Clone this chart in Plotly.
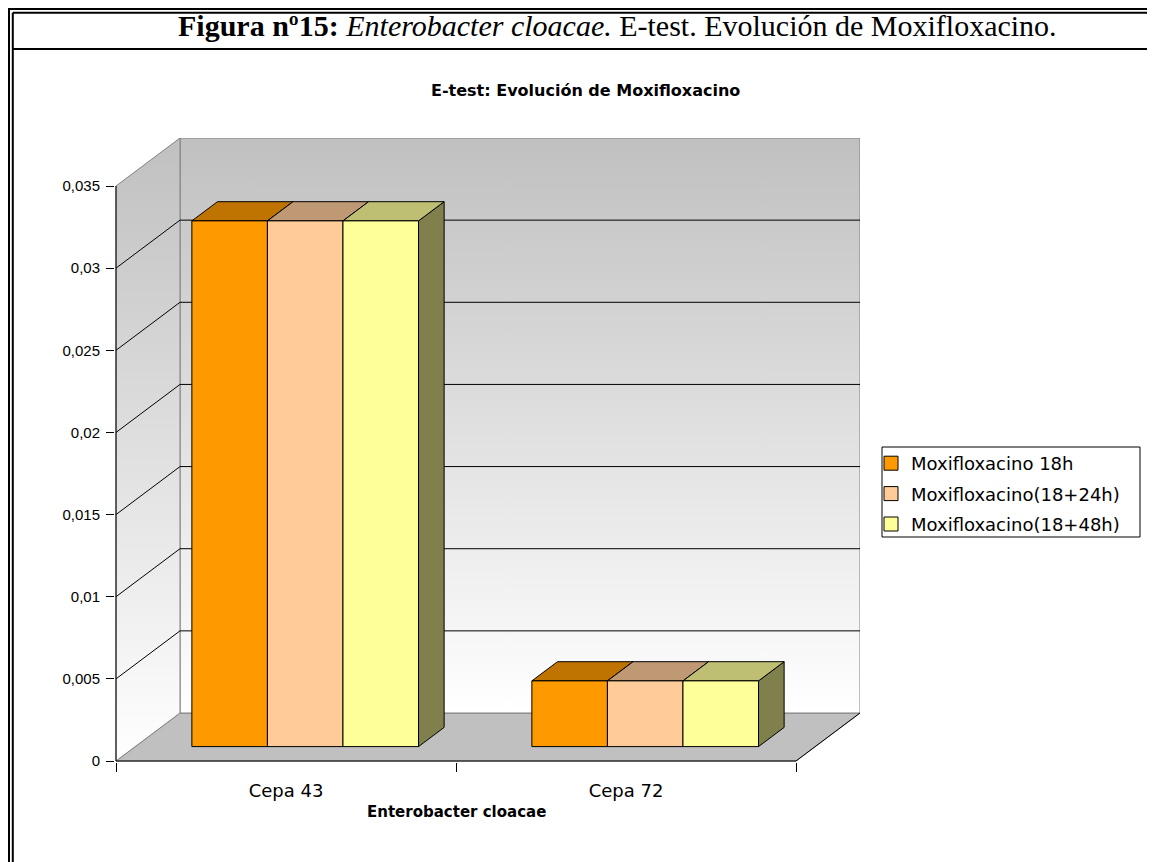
import plotly.graph_objects as go

# ---------------- data ----------------
categories = ["Cepa 43", "Cepa 72"]
series_names = ["Moxifloxacino 18h", "Moxifloxacino(18+24h)", "Moxifloxacino(18+48h)"]
values_18h = [0.032, 0.004]
values_18_24h = [0.032, 0.004]
values_18_48h = [0.032, 0.004]
y_tickvals = [0, 0.005, 0.01, 0.015, 0.02, 0.025, 0.03, 0.035]
y_ticktext = ["0", "0,005", "0,01", "0,015", "0,02", "0,025", "0,03", "0,035"]

front_colors = ["#FF9900", "#FFCC99", "#FFFF99"]
top_colors = ["#BF7300", "#BF9973", "#BFBF73"]
side_colors = ["#804D00", "#806650", "#80804D"]

all_series = [values_18h, values_18_24h, values_18_48h]

# ---------------- page / plot geometry (window pixels) ----------------
WIN_W, WIN_H = 1155, 862
OFF = 8                                      # default body margin of the page
W, H = WIN_W - OFF, WIN_H - OFF              # figure size
PL, PR, PT, PB = 115, 860, 138, 762          # plot box in window pixels
UX = 340.0                                   # px per category unit
KY = 575.0 / 0.035                           # px per value unit
XMIN = -0.5 - 1.0 / UX
XMAX = XMIN + (PR - PL) / UX
YMIN = -1.0 / KY
YMAX = YMIN + (PB - PT) / KY
DX = 64.0 / UX                               # depth shift (x)
DY = 48.0 / KY                               # depth shift (y)
YTOP = max(y_tickvals)
NCAT = len(categories)
XL, XR = -0.5, NCAT - 0.5


def pxx(px):
    return (px - PL) / (PR - PL)


def pxy(py):
    return (PB - py) / (PB - PT)


fig = go.Figure()

# floor
fig.add_trace(go.Scatter(
    x=[XL, XL + DX, XR + DX, XR, XL], y=[0, DY, DY, 0, 0],
    mode="lines", fill="toself", fillcolor="#C0C0C0",
    line=dict(color="#808080", width=1), showlegend=False, hoverinfo="skip"))

# back wall (gradient)
fig.add_trace(go.Scatter(
    x=[XL + DX, XR + DX, XR + DX, XL + DX, XL + DX],
    y=[DY, DY, YTOP + DY, YTOP + DY, DY],
    mode="lines", fill="toself",
    fillgradient=dict(type="vertical", start=DY, stop=YTOP + DY,
                      colorscale=[[0, "#FFFFFF"], [1, "#C0C0C0"]]),
    line=dict(color="#808080", width=1), showlegend=False, hoverinfo="skip"))

# left side wall (gradient)
fig.add_trace(go.Scatter(
    x=[XL, XL + DX, XL + DX, XL, XL],
    y=[0, DY, YTOP + DY, YTOP, 0],
    mode="lines", fill="toself",
    fillgradient=dict(type="vertical", start=0, stop=YTOP + DY,
                      colorscale=[[0, "#FFFFFF"], [1, "#C0C0C0"]]),
    line=dict(color="#808080", width=1), showlegend=False, hoverinfo="skip"))

# gridlines on walls
gx, gy = [], []
for v in y_tickvals[1:-1]:
    gx += [XL, XL + DX, XR + DX, None]
    gy += [v, v + DY, v + DY, None]
fig.add_trace(go.Scatter(x=gx, y=gy, mode="lines",
                         line=dict(color="black", width=1),
                         showlegend=False, hoverinfo="skip"))

# front axis lines
fig.add_trace(go.Scatter(x=[XL, XL, None, XL, XR, XR + DX],
                         y=[YTOP, 0, None, 0, 0, DY], mode="lines",
                         line=dict(color="black", width=1),
                         showlegend=False, hoverinfo="skip"))

# ---------------- bars as 3D boxes ----------------
NS = len(all_series)
BW = (2.0 / 3.0) / NS
D1, D2 = 0.3, 0.7
a1, b1 = D1 * DX, D1 * DY
a2, b2 = D2 * DX, D2 * DY

for i, vals in enumerate(all_series):
    fx, fy, tx, ty, sx, sy = [], [], [], [], [], []
    for c, v in enumerate(vals):
        x0 = c - 1.0 / 3.0 + i * BW
        x1 = x0 + BW
        fx += [x0 + a1, x1 + a1, x1 + a1, x0 + a1, x0 + a1, None]
        fy += [b1, b1, v + b1, v + b1, b1, None]
        tx += [x0 + a1, x1 + a1, x1 + a2, x0 + a2, x0 + a1, None]
        ty += [v + b1, v + b1, v + b2, v + b2, v + b1, None]
        sx += [x1 + a1, x1 + a2, x1 + a2, x1 + a1, x1 + a1, None]
        sy += [b1, b2, v + b2, v + b1, b1, None]
    for px_, py_, col in ((sx, sy, side_colors[i]), (tx, ty, top_colors[i]),
                          (fx, fy, front_colors[i])):
        fig.add_trace(go.Scatter(x=px_, y=py_, mode="lines", fill="toself",
                                 fillcolor=col, line=dict(color="black", width=1),
                                 showlegend=False, hoverinfo="skip"))

# legend entries
for i, name in enumerate(series_names):
    fig.add_trace(go.Scatter(
        x=[None], y=[None], mode="markers", name=name, legendgroup=f"g{i}",
        marker=dict(symbol="square", size=14, color=front_colors[i],
                    line=dict(color="black", width=1))))

# ---------------- frame / decorations ----------------
shapes = []
lw = 2


def hline(y, x0, x1):
    shapes.append(dict(type="line", xref="paper", yref="paper",
                       x0=pxx(x0), x1=pxx(x1), y0=pxy(y), y1=pxy(y),
                       line=dict(color="black", width=lw)))


def vline(x, y0, y1):
    shapes.append(dict(type="line", xref="paper", yref="paper",
                       x0=pxx(x), x1=pxx(x), y0=pxy(y0), y1=pxy(y1),
                       line=dict(color="black", width=lw)))


hline(9, 8, WIN_W)
hline(12.8, 12.8, WIN_W)
vline(9, 8, WIN_H)
vline(12.8, 12.8, WIN_H)
hline(49, 12.8, WIN_W)

# legend box
shapes.append(dict(type="rect", xref="paper", yref="paper",
                   x0=pxx(882), x1=pxx(1140), y0=pxy(447), y1=pxy(537),
                   line=dict(color="black", width=1), fillcolor="rgba(0,0,0,0)"))

annotations = [
    dict(text="<b>Figura nº15:</b> <i>Enterobacter cloacae.</i> E-test. Evolución de Moxifloxacino.",
         x=pxx(617), y=pxy(26), xref="paper", yref="paper", showarrow=False,
         xanchor="center", yanchor="middle",
         font=dict(family="Liberation Serif", size=30, color="black")),
    dict(text="<b>E-test: Evolución de Moxifloxacino</b>",
         x=pxx(585), y=pxy(90), xref="paper", yref="paper", showarrow=False,
         xanchor="center", yanchor="middle",
         font=dict(family="DejaVu Sans", size=16, color="black")),
    dict(text="<b>Enterobacter cloacae</b>",
         x=pxx(456), y=pxy(812), xref="paper", yref="paper", showarrow=False,
         xanchor="center", yanchor="middle",
         font=dict(family="DejaVu Sans", size=15, color="black")),
]

fig.update_layout(
    width=W, height=H, autosize=False,
    margin=dict(l=PL - OFF, r=W - (PR - OFF), t=PT - OFF, b=H - (PB - OFF), pad=0),
    paper_bgcolor="white", plot_bgcolor="white",
    hovermode=False,
    shapes=shapes, annotations=annotations,
    showlegend=True,
    legend=dict(x=pxx(871), y=pxy(445), xanchor="left", yanchor="top",
                bgcolor="rgba(0,0,0,0)", borderwidth=0,
                font=dict(family="DejaVu Sans", size=18, color="black"),
                tracegroupgap=4, itemclick=False, itemdoubleclick=False),
    xaxis=dict(range=[XMIN, XMAX], showgrid=False, zeroline=False, showline=False,
               tickmode="array", tickvals=list(range(NCAT)), ticktext=categories,
               ticks="outside", ticklen=12, tickcolor="rgba(0,0,0,0)",
               tickfont=dict(family="DejaVu Sans", size=18, color="black"),
               minor=dict(tickmode="array", tickvals=[XL + k for k in range(NCAT + 1)],
                          ticks="outside", ticklen=9, tickcolor="black", showgrid=False),
               fixedrange=True),
    yaxis=dict(range=[YMIN, YMAX], showgrid=False, zeroline=False, showline=False,
               tickmode="array", tickvals=y_tickvals, ticktext=y_ticktext,
               ticks="outside", ticklen=8, tickcolor="black",
               ticklabelstandoff=3,
               tickfont=dict(family="Liberation Sans", size=15, color="black"),
               fixedrange=True),
)

fig.write_html("out.html")
